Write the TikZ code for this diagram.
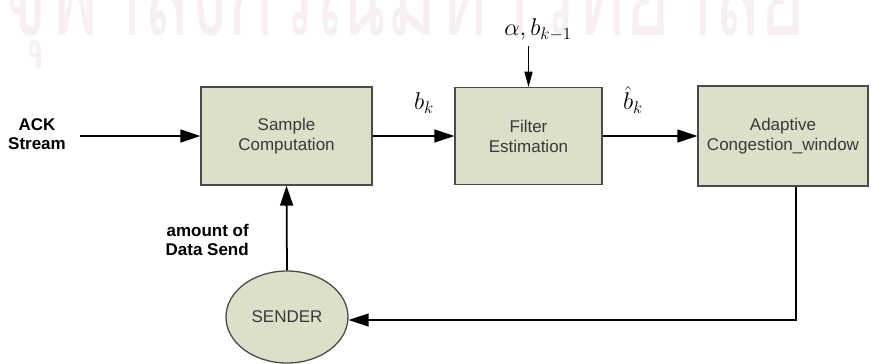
\documentclass[tikz,border=0pt]{standalone}
\usepackage{fontspec}
\setmainfont{Liberation Sans}
\newfontfamily\thaifont[Script=Thai]{Loma}
\usetikzlibrary{arrows.meta,positioning,shapes.geometric}
\definecolor{boxfill}{HTML}{DDE0C9}
\definecolor{boxline}{HTML}{4A4A4A}
\definecolor{markpink}{HTML}{F8EFF4}

\begin{document}
\begin{tikzpicture}[x=0.03cm, y=-0.03cm,
    blockbox/.style={draw=boxline, line width=1.1pt, fill=boxfill, align=center,
      text=black!78, font=\fontsize{14.5}{17}\selectfont, inner sep=0pt},
    flow/.style={-{Triangle[length=17pt, width=11pt]}, line width=1.5pt},
    thinflow/.style={-{Triangle[length=13pt, width=7pt]}, line width=0.8pt},
    sidelabel/.style={font=\bfseries\fontsize{14.5}{16.5}\selectfont, inner sep=0pt},
    mathlabel/.style={font=\fontsize{20}{24}\selectfont, inner sep=1pt}]
    \useasboundingbox (0, 0) rectangle (871, 363);
    \clip (0, 0) rectangle (871, 363);

    % watermark
    \node[anchor=base west, inner sep=0pt, text=markpink, xscale=0.8, yscale=1.3]
      (mark) at (2, 35) {\thaifont\fontsize{82}{82}\selectfont จุฬาลงกรณ์มหาวิทยาลัย};

    \node[blockbox, minimum width=5.13cm, minimum height=2.94cm] (sample) at (286.5, 136) {Sample\\Computation};
    \node[blockbox, minimum width=4.41cm, minimum height=2.91cm] (filter) at (528.5, 136) {Filter\\Estimation};
    \node[blockbox, minimum width=5.10cm, minimum height=3.00cm] (adapt) at (783, 136) {Adaptive\\Congestion\_window};
    \node[ellipse, draw=boxline, line width=1.1pt, fill=boxfill, text=black!78,
      minimum width=3.66cm, minimum height=2.76cm, font=\fontsize{14.5}{17}\selectfont] (sender) at (287, 317) {SENDER};

    \node[sidelabel, align=center] (ack) at (37, 134) {ACK\\Stream};
    \coordinate (ackin) at (80, 136);
    \node[sidelabel, align=right, anchor=east] (amount) at (249, 240) {amount of\\Data Send};

    \node[mathlabel] (bk) at (424, 103) {$b_k$};
    \node[mathlabel] (bkhat) at (633, 100) {$\hat{b}_k$};
    \node[mathlabel] (alpha) at (538, 30) {$\alpha, b_{k-1}$};

    \draw[flow] (ackin) -- (sample.west);
    \draw[flow] (sample.east) -- (filter.west);
    \draw[flow] (filter.east) -- (adapt.west);
    \draw[thinflow] ([yshift=-4*0.03cm]filter.north |- alpha.south) -- (filter.north);
    \draw[flow] ([xshift=13*0.03cm]adapt.south) |- ([yshift=-3*0.03cm]sender.east);
    \draw[flow] (sender.north) -- (sample.south);
\end{tikzpicture}
\end{document}
